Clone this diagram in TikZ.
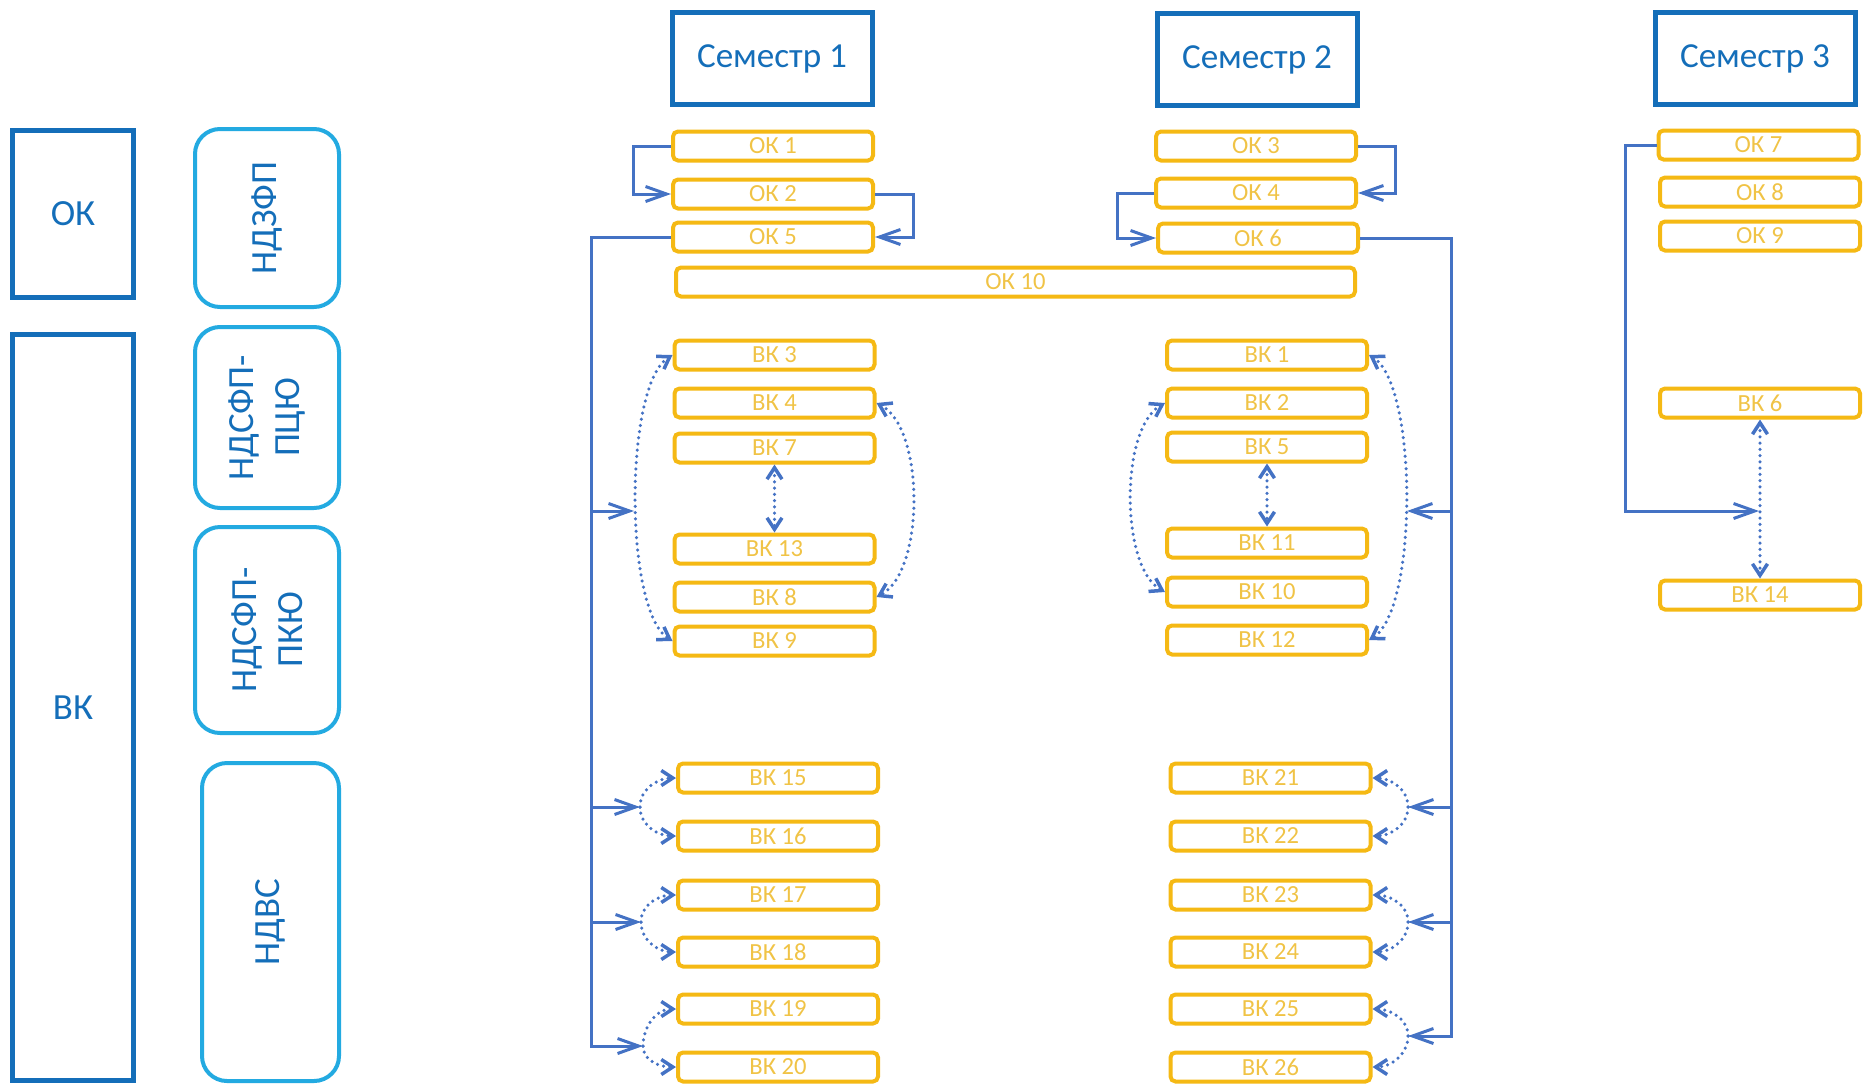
\documentclass[tikz,border=0pt]{standalone}
\usepackage{fontspec}
\setmainfont{Carlito}
\usetikzlibrary{arrows.meta}

\definecolor{darkblue}{RGB}{20,110,185}
\definecolor{lightblue}{RGB}{35,170,225}
\definecolor{gold}{RGB}{245,185,20}
\definecolor{goldtext}{RGB}{240,195,70}
\definecolor{linkblue}{RGB}{68,114,196}

\tikzset{
    linktip/.tip={Straight Barb[length=4.2mm,width=3mm]},
    dottip/.tip={Straight Barb[length=2.3mm,width=3mm]},
    semester/.style={draw=darkblue, line width=1mm, minimum width=40mm, minimum height=18.4mm,
        inner sep=0pt, text=darkblue, font=\fontsize{20}{24}\selectfont},
    category/.style={draw=darkblue, line width=1mm, minimum width=24.2mm,
        inner sep=0pt, text=darkblue, font=\fontsize{21}{25}\selectfont},
    groupbox/.style={draw=lightblue, line width=0.8mm, rounded corners=5mm, rotate=90,
        minimum height=28.8mm, inner sep=0pt, align=center, text=darkblue,
        font=\fontsize{21}{26}\selectfont},
    course/.style={draw=gold, line width=0.8mm, rounded corners=1mm, minimum width=40mm,
        minimum height=5.8mm, inner sep=0pt, text=goldtext, font=\fontsize{14}{16}\selectfont},
    link/.style={draw=linkblue, line width=0.6mm, -linktip},
    dotlink/.style={draw=linkblue, line width=0.7mm, line cap=round, dash pattern=on 0pt off 1.25mm},
}

\begin{document}
\begin{tikzpicture}[x=0.2mm, y=-0.2mm]

    \useasboundingbox (0,0) rectangle (1867,1085);

    % Left side: categories and groups
    \node[category, minimum height=33.4mm] (ok) at (73,214) {ОК};
    \node[category, minimum height=149.2mm] (vk) at (73,707.5) {ВК};

    \node[groupbox, minimum width=35.6mm] (ndzfp) at (267,218) {НДЗФП};
    \node[groupbox, minimum width=36.2mm] (ndsfppcyu) at (267,417.5) {НДСФП-\\ПЦЮ};
    \node[groupbox, minimum width=41.2mm] (ndsfppkyu) at (267,630) {НДСФП-\\ПКЮ};
    \node[groupbox, minimum width=63.6mm, minimum height=27.4mm] (ndvs) at (270.5,922) {НДВС};

    % Make the semester headers
    \foreach \name/\txt/\x/\y in {sem1/Семестр 1/772/58.5, sem2/Семестр 2/1257/59.5, sem3/Семестр 3/1755/58.5}{
        \node[semester] (\name) at (\x,\y) {\txt};
    }

    % Semester 1 courses
    \foreach \name/\txt/\y in {ok1/ОК 1/146, ok2/ОК 2/194, ok5/ОК 5/237}{
        \node[course] (\name) at (773,\y) {\txt};
    }
    \node[course, minimum width=135.8mm] (ok10) at (1015.5,282) {ОК 10};
    \foreach \name/\txt/\y in {vk3/ВК 3/355, vk4/ВК 4/403, vk7/ВК 7/448,
                               vk13/ВК 13/549, vk8/ВК 8/597, vk9/ВК 9/641}{
        \node[course] (\name) at (774.5,\y) {\txt};
    }
    \foreach \name/\txt/\y in {vk15/ВК 15/778, vk16/ВК 16/836, vk17/ВК 17/895,
                               vk18/ВК 18/952, vk19/ВК 19/1009, vk20/ВК 20/1067}{
        \node[course] (\name) at (778,\y) {\txt};
    }

    % Semester 2 courses
    \node[course] (ok3) at (1256,146) {ОК 3};
    \node[course] (ok4) at (1256,193) {ОК 4};
    \node[course] (ok6) at (1258,238) {ОК 6};
    \foreach \name/\txt/\y in {vk1/ВК 1/355, vk2/ВК 2/403, vk5/ВК 5/447,
                               vk11/ВК 11/543, vk10/ВК 10/592, vk12/ВК 12/640}{
        \node[course] (\name) at (1267,\y) {\txt};
    }
    \foreach \name/\txt/\y in {vk21/ВК 21/778, vk22/ВК 22/836, vk23/ВК 23/895,
                               vk24/ВК 24/952, vk25/ВК 25/1009, vk26/ВК 26/1067}{
        \node[course] (\name) at (1270.5,\y) {\txt};
    }

    % Semester 3 courses
    \node[course] (ok7) at (1758.5,145) {ОК 7};
    \node[course] (ok8) at (1760,192) {ОК 8};
    \node[course] (ok9) at (1760,236) {ОК 9};
    \node[course] (vk6) at (1760,403) {ВК 6};
    \node[course] (vk14) at (1760,595) {ВК 14};

    % Trunk and hub points
    \coordinate (trunkL) at (591,237);
    \coordinate (trunkR) at (1451,238);
    \coordinate (trunkC) at (1625,145);
    \coordinate (hubL1) at (634,511);
    \coordinate (hubL2) at (640,807);
    \coordinate (hubL3) at (641,922);
    \coordinate (hubL4) at (643,1046);
    \coordinate (hubR1) at (1407,511);
    \coordinate (hubR2) at (1408,807);
    \coordinate (hubR3) at (1408,922);
    \coordinate (hubR4) at (1408,1036);
    \coordinate (hubC) at (1759,511);

    % OK chains
    \draw[link] (ok1.west) -- ++(-38,0) |- (ok2.west);
    \draw[link] (ok2.east) -- ++(38,0) |- (ok5.east);
    \draw[link] (ok3.east) -- ++(37,0) |- (ok4.east);
    \draw[link] (ok4.west) -- ++(-37,0) |- (ok6.west);

    % Trunks to the VK blocks
    \draw[link] (ok5.west) -- (trunkL) |- (hubL4);
    \foreach \h in {hubL1,hubL2,hubL3}{
        \draw[link] (\h -| trunkL) -- (\h);
    }
    \draw[link] (ok6.east) -- (trunkR) |- (hubR4);
    \foreach \h in {hubR1,hubR2,hubR3}{
        \draw[link] (\h -| trunkR) -- (\h);
    }
    \draw[link] (ok7.west) -- (trunkC) |- (hubC);

    % Dotted choices
    \draw[dotlink, dottip-dottip] (vk3.west) .. controls (624,385) and (624,611) .. (vk9.west);
    \draw[dotlink, dottip-dottip] (vk4.east) .. controls (925,428) and (925,572) .. (vk8.east);
    \draw[dotlink, dottip-dottip] (vk7.south) -- (vk13.north);
    \draw[dotlink, dottip-dottip] (vk2.west) .. controls (1120,428) and (1120,567) .. (vk10.west);
    \draw[dotlink, dottip-dottip] (vk1.east) .. controls (1418,385) and (1418,610) .. (vk12.east);
    \draw[dotlink, dottip-dottip] (vk5.south) -- (vk11.north);
    \draw[dotlink, dottip-dottip] (vk6.south) -- (vk14.north);

    \foreach \h/\a/\b in {hubL2/vk15/vk16, hubL3/vk17/vk18, hubL4/vk19/vk20}{
        \draw[dotlink, -dottip] (\h) to[out=90, in=180] (\a.west);
        \draw[dotlink, -dottip] (\h) to[out=-90, in=180] (\b.west);
    }
    \foreach \h/\a/\b in {hubR2/vk21/vk22, hubR3/vk23/vk24, hubR4/vk25/vk26}{
        \draw[dotlink, -dottip] (\h) to[out=90, in=0] (\a.east);
        \draw[dotlink, -dottip] (\h) to[out=-90, in=0] (\b.east);
    }

\end{tikzpicture}
\end{document}
